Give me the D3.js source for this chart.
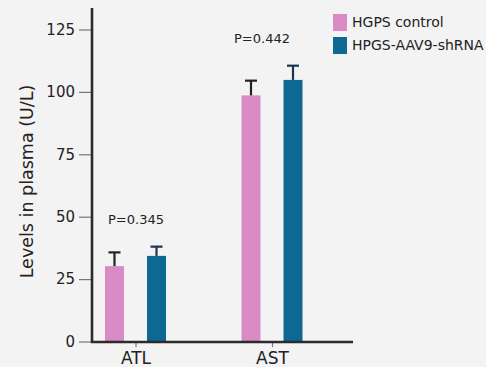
<!DOCTYPE html>
<html>
<head>
<meta charset="utf-8">
<script src="https://cdn.jsdelivr.net/npm/d3@7"></script>
<style>
  html, body { margin: 0; padding: 0; background: #f3f3f3; }
  svg { display: block; font-family: "DejaVu Sans", Verdana, sans-serif; }
</style>
</head>
<body>
<svg id="chart" width="486" height="367"></svg>
<script>
// Plasma enzyme levels (U/L), mean with upper error bar
const categories = ["ATL", "AST"];
const seriesNames = ["HGPS control", "HPGS-AAV9-shRNA"];
const controlMeans = [30.2, 98.6];
const controlErrors = [5.5, 5.9];
const treatedMeans = [34.3, 104.8];
const treatedErrors = [3.7, 5.7];
const pValues = ["P=0.345", "P=0.442"];
const yTicks = [0, 25, 50, 75, 100, 125];

const colors = { "HGPS control": "#d98bc6", "HPGS-AAV9-shRNA": "#0d6892" };
const errColors = { "HGPS control": "#222222", "HPGS-AAV9-shRNA": "#1c3450" };

const rows = categories.map((c, i) => ({
  category: c,
  values: [
    { series: seriesNames[0], mean: controlMeans[i], err: controlErrors[i] },
    { series: seriesNames[1], mean: treatedMeans[i], err: treatedErrors[i] }
  ]
}));

const svg = d3.select("#chart");

const y = d3.scaleLinear().domain([0, 125]).range([341.5, 29.5]);
const x = d3.scalePoint().domain(categories).range([135.5, 272]);
const xs = d3.scaleBand().domain(seriesNames).range([-30.5, 30.5]).paddingInner(0.548);

const axisX = 92, axisBottom = 342, axisTop = 8, axisRight = 353;

// y ticks and labels
const yAxis = svg.append("g").attr("transform", `translate(${axisX - 1},0)`)
  .call(d3.axisLeft(y).tickValues(yTicks).tickSize(12).tickPadding(4));
yAxis.select(".domain").remove();
yAxis.selectAll(".tick line").attr("stroke", "#777").attr("stroke-width", 1.2);
yAxis.selectAll(".tick text")
  .attr("font-size", 15).attr("fill", "#222")
  .attr("font-family", "DejaVu Sans, Verdana, sans-serif");

// category ticks and labels
const xAxis = svg.append("g").attr("transform", `translate(0,${axisBottom})`)
  .call(d3.axisBottom(x).tickSize(5).tickPadding(5).tickSizeOuter(0));
xAxis.select(".domain").remove();
xAxis.selectAll(".tick line").attr("stroke", "#777").attr("stroke-width", 1.2);
xAxis.selectAll(".tick text")
  .attr("font-size", 17).attr("fill", "#222")
  .attr("font-family", "DejaVu Sans, Verdana, sans-serif");

// bars
const groups = svg.append("g").selectAll("g")
  .data(rows).join("g")
  .attr("transform", d => `translate(${x(d.category)},0)`);

groups.selectAll("rect")
  .data(d => d.values).join("rect")
  .attr("x", d => xs(d.series))
  .attr("width", xs.bandwidth())
  .attr("y", d => y(d.mean))
  .attr("height", d => y(0) - y(d.mean) + 0.5)
  .attr("fill", d => colors[d.series]);

// error bars (upper)
const capHalf = 6;
groups.selectAll("g.err")
  .data(d => d.values).join("g")
  .attr("class", "err")
  .attr("stroke", d => errColors[d.series])
  .attr("stroke-width", 2.2)
  .each(function (d) {
    const g = d3.select(this);
    const cx = xs(d.series) + xs.bandwidth() / 2;
    g.append("line").attr("x1", cx).attr("x2", cx)
      .attr("y1", y(d.mean)).attr("y2", y(d.mean + d.err));
    g.append("line").attr("x1", cx - capHalf).attr("x2", cx + capHalf)
      .attr("y1", y(d.mean + d.err)).attr("y2", y(d.mean + d.err));
  });

// p-value annotations above each group
const pNudge = { ATL: 0.5, AST: -10 };
svg.append("g").selectAll("text")
  .data(rows).join("text")
  .attr("x", d => x(d.category) + pNudge[d.category])
  .attr("y", d => y(d3.max(d.values, v => v.mean + v.err)) - 23)
  .attr("text-anchor", "middle")
  .attr("font-size", 13)
  .attr("fill", "#222")
  .text((d, i) => pValues[i]);

// axis lines
svg.append("line").attr("x1", axisX).attr("x2", axisX)
  .attr("y1", axisTop).attr("y2", axisBottom + 1)
  .attr("stroke", "#2b2b2b").attr("stroke-width", 2.6);
svg.append("line").attr("x1", axisX - 1).attr("x2", axisRight)
  .attr("y1", axisBottom).attr("y2", axisBottom)
  .attr("stroke", "#2b2b2b").attr("stroke-width", 2.6);

// y axis title
svg.append("text")
  .attr("transform", "translate(33,181.5) rotate(-90)")
  .attr("text-anchor", "middle")
  .attr("font-size", 17.5)
  .attr("fill", "#222")
  .text("Levels in plasma (U/L)");

// legend
const legend = svg.append("g").selectAll("g")
  .data(seriesNames).join("g")
  .attr("transform", (d, i) => `translate(333,${14 + i * 23})`);
legend.append("rect")
  .attr("width", 14).attr("height", 17)
  .attr("fill", d => colors[d]);
legend.append("text")
  .attr("x", 19).attr("y", 12.5)
  .attr("font-size", 14).attr("fill", "#222")
  .text(d => d);
</script>
</body>
</html>
